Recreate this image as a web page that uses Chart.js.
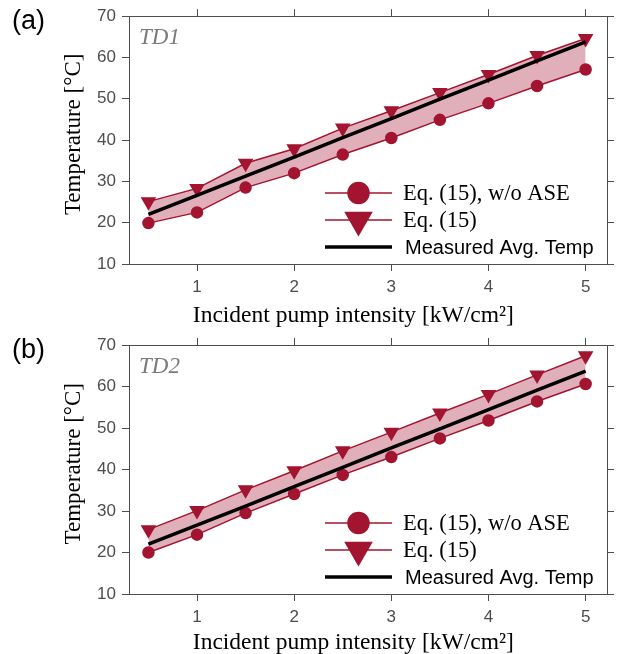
<!DOCTYPE html>
<html>
<head>
<meta charset="utf-8">
<script src="https://cdn.jsdelivr.net/npm/chart.js@4.4.0/dist/chart.umd.min.js"></script>
<style>
body { margin: 0; background: #fff; width: 623px; height: 654px; overflow: hidden; }
.panel { position: relative; width: 623px; height: 327px; }
.tag { position: absolute; left: 12px; font: 27px "Liberation Sans", Arial, sans-serif; color: #000; }
</style>
</head>
<body>
<div class="panel"><canvas id="chartA" width="623" height="327"></canvas><div class="tag" style="top:5px">(a)</div></div>
<div class="panel"><canvas id="chartB" width="623" height="327"></canvas><div class="tag" style="top:7px">(b)</div></div>
<script>
// pump intensity, kW/cm2
var pumpIntensity = [0.5, 1, 1.5, 2, 2.5, 3, 3.5, 4, 4.5, 5];
var xTickValues = [1, 2, 3, 4, 5];
var yTickValues = [10, 20, 30, 40, 50, 60, 70];
var seriesLabels = ["Eq. (15), w/o ASE", "Eq. (15)", "Measured Avg. Temp"];

// TD1
var td1NoAse = [19.9, 22.5, 28.5, 32.0, 36.5, 40.5, 44.9, 48.9, 53.1, 57.1];
var td1Eq15 = [25.1, 28.3, 34.4, 37.9, 42.9, 47.1, 51.5, 55.9, 60.5, 64.6];
var td1Measured = [22.0, 26.6, 31.3, 35.9, 40.6, 45.2, 49.9, 54.5, 59.2, 63.8];

// TD2
var td2NoAse = [20.0, 24.3, 29.5, 34.1, 38.7, 43.0, 47.5, 51.8, 56.4, 60.6];
var td2Eq15 = [25.5, 30.1, 35.1, 39.7, 44.5, 49.0, 53.6, 58.1, 62.8, 67.4];
var td2Measured = [22.0, 26.6, 31.2, 35.9, 40.5, 45.2, 49.8, 54.4, 59.1, 63.7];

var RED = '#a2142f';
var AXIS = '#4d4d4d';
var SERIF = '"Liberation Serif", "Times New Roman", serif';
var SANS = '"Liberation Sans", Arial, sans-serif';
var NB = '\u00a0';

function pts(ys) {
    return pumpIntensity.map(function (x, i) { return {x: x, y: ys[i]}; });
}

// legend drawn inside the plot, bottom right
var insideLegend = {
    id: 'insideLegend',
    afterDraw: function (chart, args, opts) {
        var ctx = chart.ctx, area = chart.chartArea;
        var x0 = area.left + opts.left;
        chart.data.datasets.forEach(function (ds, i) {
            var y = area.bottom - opts.rows[i];
            ctx.save();
            ctx.strokeStyle = ds.borderColor;
            ctx.lineWidth = ds.borderWidth;
            ctx.beginPath();
            ctx.moveTo(x0, y);
            ctx.lineTo(x0 + opts.lineLength, y);
            ctx.stroke();
            if (ds.pointRadius > 0) {
                ctx.fillStyle = ds.pointBackgroundColor;
                ctx.strokeStyle = ds.pointBorderColor;
                Chart.helpers.drawPoint(ctx, {
                    pointStyle: ds.pointStyle,
                    rotation: ds.pointRotation || 0,
                    radius: opts.markers[i],
                    borderWidth: 1
                }, x0 + opts.lineLength / 2, y);
            }
            ctx.fillStyle = '#000';
            ctx.font = opts.fonts[i];
            ctx.textBaseline = 'middle';
            ctx.fillText(ds.label, x0 + opts.lineLength + opts.gap[i], y + 1);
            ctx.restore();
        });
    }
};

// "TD1" / "TD2" tag in the top left of the plot
var cornerTag = {
    id: 'cornerTag',
    afterDraw: function (chart, args, opts) {
        var ctx = chart.ctx, area = chart.chartArea;
        ctx.save();
        ctx.font = 'italic 23px ' + SERIF;
        ctx.fillStyle = '#7a7a7a';
        ctx.textBaseline = 'alphabetic';
        ctx.fillText(opts.text, area.left + 10, area.top + opts.dy);
        ctx.restore();
    }
};

function makeChart(id, noAse, eq15, measured, tag, topH, bottomH, titlePad) {
    var setX = function (s) { s.ticks = xTickValues.map(function (v) { return {value: v}; }); };
    var setY = function (s) { s.ticks = yTickValues.map(function (v) { return {value: v}; }); };
    var grid = {drawOnChartArea: false, color: AXIS, tickLength: 7, lineWidth: 1};
    var border = {color: AXIS, width: 1};
    return new Chart(document.getElementById(id).getContext('2d'), {
        type: 'line',
        data: {
            datasets: [
                {
                    label: seriesLabels[0],
                    data: pts(noAse),
                    borderColor: RED,
                    borderWidth: 1.5,
                    pointStyle: 'circle',
                    pointRadius: 5.5,
                    pointBackgroundColor: RED,
                    pointBorderColor: RED,
                    fill: false,
                    order: 1
                },
                {
                    label: seriesLabels[1],
                    data: pts(eq15),
                    borderColor: RED,
                    borderWidth: 1.5,
                    backgroundColor: 'rgba(165,20,50,0.34)',
                    pointStyle: 'triangle',
                    pointRotation: 180,
                    pointRadius: 7.5,
                    pointBackgroundColor: RED,
                    pointBorderColor: RED,
                    fill: '-1',
                    order: 2
                },
                {
                    label: seriesLabels[2],
                    data: pts(measured),
                    borderColor: '#000',
                    borderWidth: 3.5,
                    pointRadius: 0,
                    fill: false,
                    order: 0
                }
            ]
        },
        options: {
            responsive: false,
            animation: false,
            layout: {padding: 0},
            plugins: {
                legend: {display: false},
                tooltip: {enabled: false},
                filler: {drawTime: 'beforeDatasetsDraw'},
                insideLegend: {
                    left: 196, lineLength: 67, gap: [11, 11, 13],
                    rows: [71, 44, 17],
                    markers: [10.5, 15, 0],
                    fonts: ['22.5px ' + SERIF, '22.5px ' + SERIF, '20px ' + SANS]
                },
                cornerTag: {text: tag, dy: 28}
            },
            scales: {
                x: {
                    type: 'linear', position: 'bottom', min: 0.3, max: 5.22,
                    afterBuildTicks: setX,
                    afterFit: function (s) { s.height = bottomH; },
                    grid: grid, border: border,
                    ticks: {font: {family: SANS, size: 17}, color: AXIS, padding: 6},
                    title: {display: true, text: 'Incident pump intensity [kW/cm\u00b2]' + NB + NB + NB + NB + NB,
                        font: {family: SERIF, size: 23.5}, color: '#000', padding: {top: 0, bottom: titlePad}}
                },
                x2: {
                    type: 'linear', position: 'top', min: 0.3, max: 5.22,
                    afterBuildTicks: setX,
                    afterFit: function (s) { s.height = topH; },
                    grid: grid, border: border,
                    ticks: {display: false}
                },
                y: {
                    type: 'linear', position: 'left', min: 10, max: 70,
                    afterBuildTicks: setY,
                    afterFit: function (s) { s.width = 129; },
                    grid: grid, border: border,
                    ticks: {font: {family: SANS, size: 17}, color: AXIS, padding: 6},
                    title: {display: true, text: NB + NB + 'Temperature [\u00b0C]',
                        font: {family: SERIF, size: 23}, color: '#000', padding: {top: 60, bottom: 0}}
                },
                y2: {
                    type: 'linear', position: 'right', min: 10, max: 70,
                    afterBuildTicks: setY,
                    afterFit: function (s) { s.width = 16; },
                    grid: grid, border: border,
                    ticks: {display: false}
                }
            }
        },
        plugins: [insideLegend, cornerTag]
    });
}

window.onload = function () {
    makeChart('chartA', td1NoAse, td1Eq15, td1Measured, 'TD1', 15, 63, -3);
    makeChart('chartB', td2NoAse, td2Eq15, td2Measured, 'TD2', 18, 60, -3);
};
</script>
</body>
</html>
